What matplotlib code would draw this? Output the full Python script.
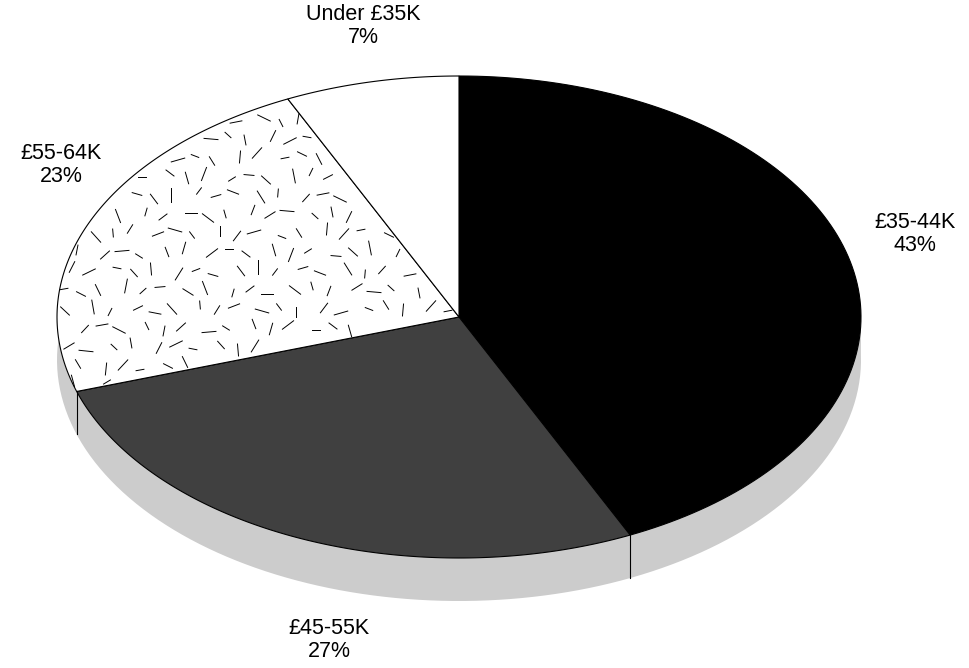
import numpy as np
import matplotlib
matplotlib.use('Agg')
import matplotlib.pyplot as plt
from matplotlib.patches import Wedge, Ellipse, Polygon
from matplotlib.transforms import Affine2D

labels = ['£35-44K', '£45-55K', '£55-64K', 'Under £35K']
shares = [43, 27, 23, 7]
fills = ['#000000', '#404040', '#ffffff', '#ffffff']
label_xy = [(915, 234), (329, 640), (61, 165), (363, 26)]
# fleck positions are a texture (fixed rows), not data
W, H = 970, 668
cx, cy, rx, ry = 459, 317, 402, 241
depth = 43

fig = plt.figure(figsize=(W/100, H/100), dpi=100)
ax = fig.add_axes([0, 0, 1, 1])
ax.set_xlim(0, W); ax.set_ylim(H, 0); ax.axis('off')

def pt(a, dy=0):
    return (cx + rx*np.sin(a), cy - ry*np.cos(a) + dy)

def arc(a0, a1, dy=0, n=120):
    t = np.linspace(a0, a1, n)
    return np.c_[cx + rx*np.sin(t), cy - ry*np.cos(t) + dy]

fr = np.array(shares, float)/sum(shares)
# measured slice boundaries on ellipse (clockwise from top)
bounds = np.r_[0, np.cumsum(fr)]*2*np.pi
# shadow
a_s, a_e = np.pi/2 - 0.02, 3*np.pi/2 + 0.25
top = arc(a_s, a_e)
bot = arc(a_e, a_s, depth)
ax.add_patch(Polygon(np.r_[top, bot], closed=True, fc='#cccccc', ec='none', zorder=1))

for i in range(4):
    p = np.r_[[(cx, cy)], arc(bounds[i], bounds[i+1])]
    ax.add_patch(Polygon(p, closed=True, fc=fills[i], ec='black', lw=0.8, zorder=2))

# flecks
from matplotlib.path import Path
wedge = Path(np.r_[[(cx, cy)], arc(bounds[2], bounds[3])])
segs = []
xs = np.arange(60, 460, 21)
ys = np.arange(100, 400, 19)
for j, y in enumerate(ys):
    for k, x in enumerate(xs):
        px = x + ((k*7 + j*13) % 11) - 5 + (j % 2)*10
        py = y + ((k*5 + j*3) % 9) - 4
        ang = ((k*37 + j*53) % 180)*np.pi/180
        d = 4 + ((k + j*2) % 4)
        a = (px - d*np.cos(ang), py - d*np.sin(ang))
        b = (px + d*np.cos(ang), py + d*np.sin(ang))
        if wedge.contains_point(a) and wedge.contains_point(b):
            ax.plot([a[0], b[0]], [a[1], b[1]], color='black', lw=0.7, zorder=3)

# explicit edge lines
for b_ in [bounds[1], bounds[2]]:
    p0 = pt(b_); p1 = pt(b_, depth)
    ax.plot([p0[0], p1[0]], [p0[1], p1[1]], color='black', lw=0.8, zorder=3)

for lab, s, (x, y) in zip(labels, shares, label_xy):
    ax.text(x, y, f'{lab}\n{s}%', ha='center', va='center', fontsize=15.5,
            family=['Liberation Sans', 'DejaVu Sans'], linespacing=1.15)

fig.savefig('out.png', dpi=100)
